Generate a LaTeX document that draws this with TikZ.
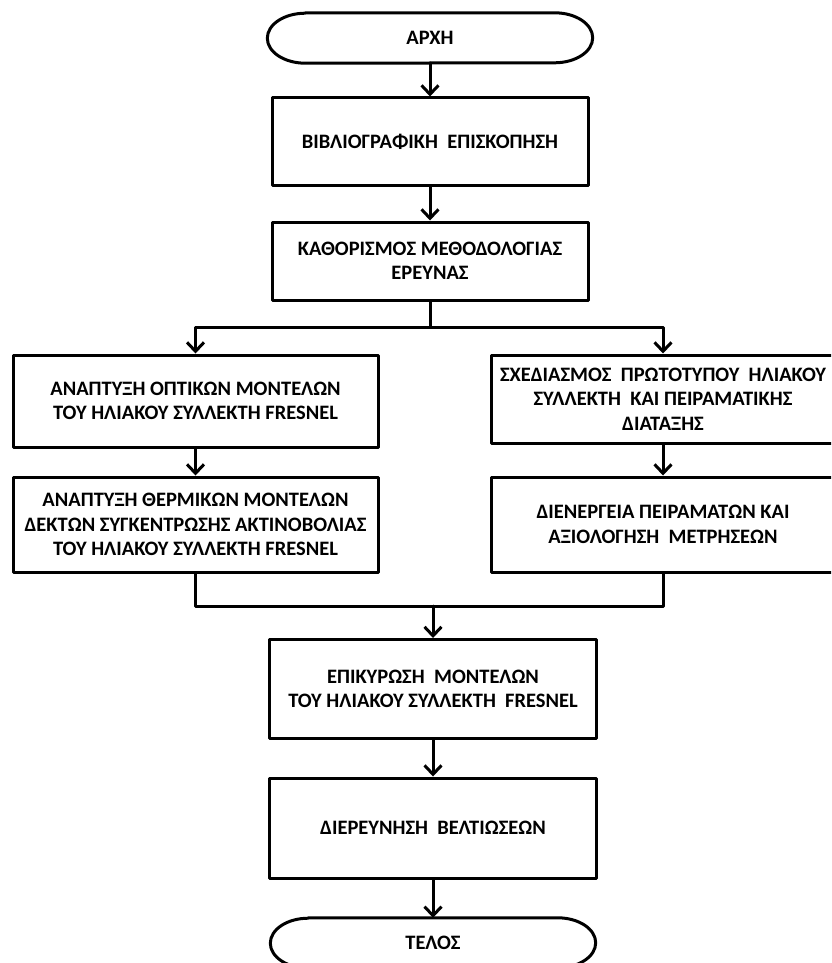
\documentclass[tikz,border=0pt]{standalone}
\usepackage{fontspec}
\setmainfont{Carlito}
\usetikzlibrary{arrows.meta,calc}

\tikzset{
  stagebox/.style={draw, line width=3pt, inner sep=0pt, align=center,
    font=\bfseries\fontsize{20.5}{24.5}\selectfont},
  endcap/.style={inner sep=0pt, minimum width=325pt, minimum height=50pt,
    font=\bfseries\fontsize{20.5}{24.5}\selectfont},
  flow/.style={-{Straight Barb[length=9pt,width=17pt]}, line width=3pt},
  joinline/.style={line width=3pt}
}

\begin{document}
\begin{tikzpicture}[line cap=round, line join=round, x=1pt, y=1pt]
  \useasboundingbox (0,0) rectangle (831,-963);
  \fill[white] (0,0) rectangle (831,-963);
  \clip (0,0) rectangle (831,-963);
  % main column
  \node[endcap] (start) at (430,-38) {ΑΡΧΗ};
  \node[stagebox, minimum width=316pt, minimum height=87pt] (lit) at (430,-141.5)
    {ΒΙΒΛΙΟΓΡΑΦΙΚΗ\ \ ΕΠΙΣΚΟΠΗΣΗ};
  \node[stagebox, minimum width=316pt, minimum height=78pt] (method) at (430,-261)
    {ΚΑΘΟΡΙΣΜΟΣ ΜΕΘΟΔΟΛΟΓΙΑΣ\\ΕΡΕΥΝΑΣ};
  % left branch: models
  \node[stagebox, minimum width=365pt, minimum height=92pt] (optic) at (195.5,-401)
    {ΑΝΑΠΤΥΞΗ ΟΠΤΙΚΩΝ ΜΟΝΤΕΛΩΝ\\ΤΟΥ ΗΛΙΑΚΟΥ ΣΥΛΛΕΚΤΗ FRESNEL};
  \node[stagebox, minimum width=365pt, minimum height=95pt] (thermal) at (195.5,-524.5)
    {ΑΝΑΠΤΥΞΗ ΘΕΡΜΙΚΩΝ ΜΟΝΤΕΛΩΝ\\ΔΕΚΤΩΝ ΣΥΓΚΕΝΤΡΩΣΗΣ ΑΚΤΙΝΟΒΟΛΙΑΣ\\ΤΟΥ ΗΛΙΑΚΟΥ ΣΥΛΛΕΚΤΗ FRESNEL};
  % right branch: prototype (runs past the page edge)
  \node[stagebox, minimum width=344pt, minimum height=88pt] (design) at (663,-399)
    {ΣΧΕΔΙΑΣΜΟΣ\ \ ΠΡΩΤΟΤΥΠΟΥ\ \ ΗΛΙΑΚΟΥ\\ΣΥΛΛΕΚΤΗ\ \ ΚΑΙ ΠΕΙΡΑΜΑΤΙΚΗΣ\\ΔΙΑΤΑΞΗΣ};
  \node[stagebox, minimum width=344pt, minimum height=95pt] (exper) at (663,-524.5)
    {ΔΙΕΝΕΡΓΕΙΑ ΠΕΙΡΑΜΑΤΩΝ ΚΑΙ\\ΑΞΙΟΛΟΓΗΣΗ\ \ ΜΕΤΡΗΣΕΩΝ};
  % closing column
  \node[stagebox, minimum width=327pt, minimum height=99pt] (valid) at (433,-689)
    {ΕΠΙΚΥΡΩΣΗ\ \ ΜΟΝΤΕΛΩΝ\\ΤΟΥ ΗΛΙΑΚΟΥ ΣΥΛΛΕΚΤΗ\ \ FRESNEL};
  \node[stagebox, minimum width=327pt, minimum height=100pt] (improve) at (433,-828)
    {ΔΙΕΡΕΥΝΗΣΗ\ \ ΒΕΛΤΙΩΣΕΩΝ};
  \node[endcap] (stop) at (433,-943) {ΤΕΛΟΣ};
  % stadium outlines for start and stop
  \foreach \t in {start,stop}
    \draw[line width=3pt] ([xshift=38pt]\t.north west) -- ([xshift=-38pt]\t.north east)
      arc[start angle=90, end angle=-90, x radius=38pt, y radius=25pt]
      -- ([xshift=38pt]\t.south west)
      arc[start angle=270, end angle=90, x radius=38pt, y radius=25pt] -- cycle;
  % connectors
  \coordinate (fork) at (430,-327);
  \coordinate (join) at (433,-606);
  \draw[flow] (start) -- (lit);
  \draw[flow] (lit) -- (method);
  \draw[joinline] (method) -- (fork);
  \draw[flow] (fork) -| (optic);
  \draw[flow] (fork) -| (design);
  \draw[flow] (optic) -- (thermal);
  \draw[flow] (design) -- (exper);
  \draw[joinline] (thermal) |- (join) -| (exper);
  \draw[flow] (join) -- (valid);
  \draw[flow] (valid) -- (improve);
  \draw[flow] (improve) -- (stop);
\end{tikzpicture}
\end{document}
